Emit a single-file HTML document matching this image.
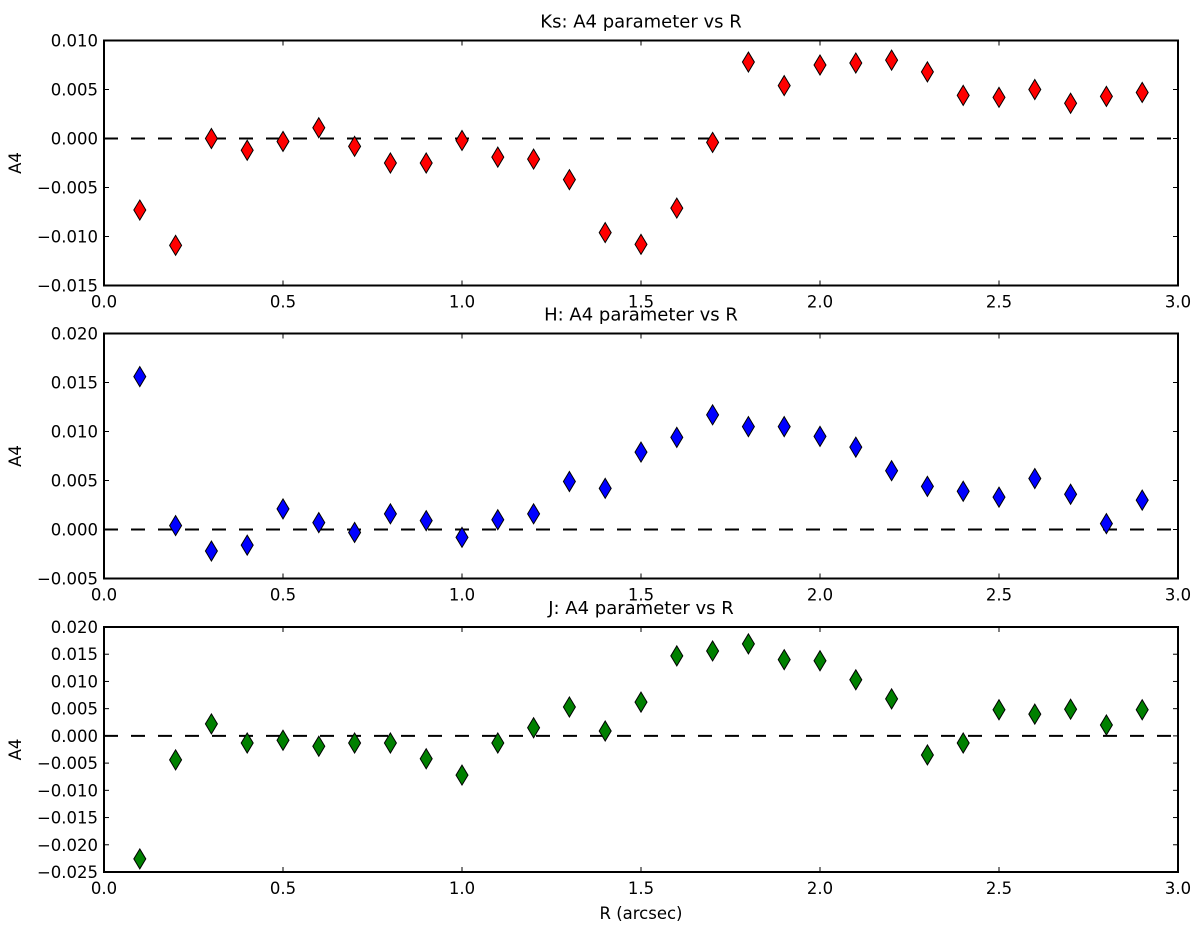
<!DOCTYPE html>
<html><head><meta charset="utf-8"><style>
body{margin:0;background:#fff}
svg text{font-family:"DejaVu Sans","Liberation Sans",sans-serif;fill:#000}
</style></head><body>
<svg id="c" width="1200" height="937" xmlns="http://www.w3.org/2000/svg"></svg>
<script>
const radii=[0.1,0.2,0.3,0.4,0.5,0.6,0.7,0.8,0.9,1.0,1.1,1.2,1.3,1.4,1.5,1.6,1.7,1.8,1.9,2.0,2.1,2.2,2.3,2.4,2.5,2.6,2.7,2.8,2.9];
const ksValues=[-0.0073,-0.0109,0.0000,-0.0012,-0.0003,0.0011,-0.0008,-0.0025,-0.0025,-0.0002,-0.0019,-0.0021,-0.0042,-0.0096,-0.0108,-0.0071,-0.0004,0.0078,0.0054,0.0075,0.0077,0.0080,0.0068,0.0044,0.0042,0.0050,0.0036,0.0043,0.0047];
const hValues=[0.0156,0.0004,-0.0022,-0.0016,0.0021,0.0007,-0.0003,0.0016,0.0009,-0.0008,0.0010,0.0016,0.0049,0.0042,0.0079,0.0094,0.0117,0.0105,0.0105,0.0095,0.0084,0.0060,0.0044,0.0039,0.0033,0.0052,0.0036,0.0006,0.0030];
const jValues=[-0.0226,-0.0044,0.0022,-0.0013,-0.0008,-0.0019,-0.0013,-0.0013,-0.0042,-0.0072,-0.0013,0.0015,0.0053,0.0009,0.0062,0.0147,0.0156,0.0169,0.0140,0.0138,0.0103,0.0068,-0.0035,-0.0013,0.0048,0.0040,0.0049,0.0020,0.0048];
const xTicks=[0.0,0.5,1.0,1.5,2.0,2.5,3.0];
const ksTicks=[-0.015,-0.010,-0.005,0.000,0.005,0.010];
const hTicks=[-0.005,0.000,0.005,0.010,0.015,0.020];
const jTicks=[-0.025,-0.020,-0.015,-0.010,-0.005,0.000,0.005,0.010,0.015,0.020];
const NS="http://www.w3.org/2000/svg";
const svg=document.getElementById('c');
function mk(t,a,p){const e=document.createElementNS(NS,t);for(const k in a)e.setAttribute(k,a[k]);(p||svg).appendChild(e);return e;}
const L=104,R=1178,H=245;
const xs=v=>L+(v-0)/(3-0)*(R-L);
function panel(key,title,top,ymin,ymax,ticks,vals,color){
  const g=mk('g',{});
  
  
  const ys=v=>top+H-(v-ymin)/(ymax-ymin)*H;
  const t=mk('text',{x:(L+R)/2,y:top-13,'text-anchor':'middle','font-size':18},g);t.textContent=title;
  
  
  const yl=mk('text',{x:21,y:top+H/2,'text-anchor':'middle','font-size':16.5,transform:`rotate(-90 21 ${top+H/2})`},g);yl.textContent='A4';
  
  
  xTicks.forEach(v=>{const x=xs(v);
    mk('line',{x1:x,x2:x,y1:top+H,y2:top+H-5,stroke:'#000','stroke-width':1},g);
    mk('line',{x1:x,x2:x,y1:top,y2:top+5,stroke:'#000','stroke-width':1},g);
    const l=mk('text',{x:x,y:top+H+22,'text-anchor':'middle','font-size':16.5},g);l.textContent=v.toFixed(1);
    
    });
  ticks.forEach(v=>{const y=ys(v);
    mk('line',{x1:L,x2:L+5,y1:y,y2:y,stroke:'#000','stroke-width':1},g);
    mk('line',{x1:R,x2:R-5,y1:y,y2:y,stroke:'#000','stroke-width':1},g);
    const l=mk('text',{x:L-6,y:y+6,'text-anchor':'end','font-size':16.5},g);l.textContent=(v<0?'\u2212':'')+Math.abs(v).toFixed(3);
    
    });
  const z=mk('line',{x1:L,x2:R,y1:ys(0),y2:ys(0),stroke:'#000','stroke-width':2,'stroke-dasharray':'14 13'},g);
  
  
  vals.forEach((v,i)=>{const x=xs(radii[i]),y=ys(v);
    const p=mk('polygon',{points:`${x},${y-10} ${x+6},${y} ${x},${y+10} ${x-6},${y}`,fill:color,stroke:'#000','stroke-width':1},g);
    
    });
  const f=mk('rect',{x:L,y:top,width:R-L,height:H,fill:'none',stroke:'#000','stroke-width':2},g);
  
  
}
panel('ks','Ks: A4 parameter vs R',40.5,-0.015,0.010,ksTicks,ksValues,'#ff0000');
panel('h','H: A4 parameter vs R',333.5,-0.005,0.020,hTicks,hValues,'#0000ff');
panel('j','J: A4 parameter vs R',627,-0.025,0.020,jTicks,jValues,'#008000');
const xl=mk('text',{x:641,y:919,'text-anchor':'middle','font-size':16.5});xl.textContent='R (arcsec)';


</script>
</body></html>
